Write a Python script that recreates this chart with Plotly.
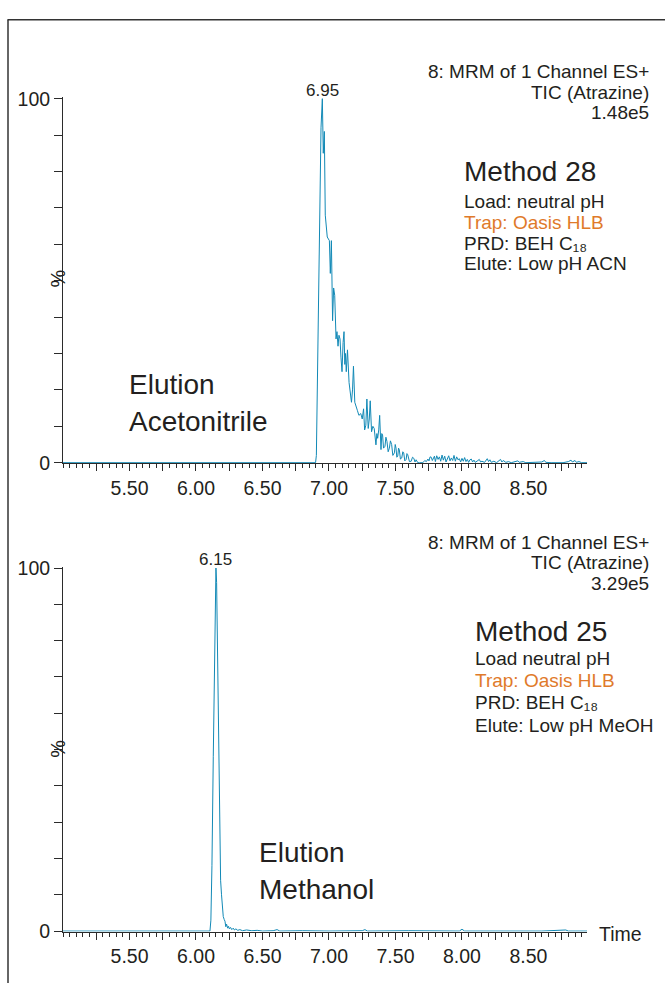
import plotly.graph_objects as go

# ---- chromatogram data (retention time in min, relative intensity in %) ----
time_acn = [5.00, 6.89, 6.899, 6.905, 6.915, 6.927, 6.94, 6.95, 6.957, 6.965, 6.972, 6.987,
            7.003, 7.01, 7.018, 7.027, 7.035, 7.043, 7.053, 7.06, 7.068, 7.075, 7.083, 7.09,
            7.098, 7.106, 7.113, 7.119, 7.124, 7.13, 7.139, 7.151, 7.16, 7.169, 7.177, 7.184,
            7.194, 7.204, 7.214, 7.225, 7.239, 7.25, 7.26, 7.268, 7.277, 7.285, 7.295, 7.303,
            7.31, 7.32, 7.33, 7.34, 7.347, 7.353, 7.36, 7.366, 7.374, 7.381, 7.391, 7.397,
            7.403, 7.41, 7.421, 7.428, 7.436, 7.445, 7.454, 7.462, 7.471, 7.48, 7.492, 7.498,
            7.504, 7.51, 7.517, 7.523, 7.529, 7.537, 7.547, 7.555, 7.562, 7.57, 7.58, 7.586,
            7.592, 7.605, 7.618, 7.628, 7.638, 7.647, 7.655, 7.668, 7.681, 7.706, 7.72, 7.732,
            7.744, 7.752, 7.76, 7.769, 7.777, 7.785, 7.793, 7.80, 7.81, 7.82, 7.83, 7.84,
            7.85, 7.86, 7.87, 7.88, 7.89, 7.90, 7.91, 7.92, 7.93, 7.94, 7.95, 7.96,
            7.97, 7.98, 7.99, 8.00, 8.01, 8.02, 8.03, 8.04, 8.05, 8.06, 8.07, 8.08,
            8.09, 8.10, 8.12, 8.13, 8.14, 8.15, 8.17, 8.18, 8.19, 8.20, 8.21, 8.22,
            8.24, 8.26, 8.28, 8.29, 8.30, 8.31, 8.33, 8.35, 8.37, 8.40, 8.42, 8.43,
            8.46, 8.48, 8.52, 8.55, 8.60, 8.62, 8.63, 8.67, 8.72, 8.76, 8.80, 8.82,
            8.83, 8.85, 8.86, 8.88, 8.90, 8.95]
int_acn = [0, 0, 0, 2, 25, 62, 92, 100, 85, 91, 68, 62,
           61, 52, 61, 39, 48, 46, 34, 36, 32, 35, 34, 29,
           25, 33, 36, 27, 30, 25, 31, 22, 19, 16.6, 20, 26.5,
           16.6, 15, 14.3, 13, 13.5, 12, 14.8, 9, 10.3, 17.5, 9.4, 12,
           17, 8.5, 10, 9.4, 6, 4.9, 8, 6.7, 9, 13, 3.6, 8,
           7.6, 4, 4.5, 7, 5.8, 3, 4, 6, 5, 2, 2.7, 5,
           4, 1.5, 1.8, 4, 3.5, 1, 1.3, 3, 2.7, 0.5, 0.9, 2.5,
           2.2, 0.3, 0.4, 1.5, 1.2, 0.2, 0.8, 0, 0, 0, 0.6, 0.3,
           1, 0.5, 1.6, 1.5, 0.6, 1.2, 1.8, 0.3, 1.9, 0.9, 1.6, 0.4,
           2.1, 0.7, 1.8, 0.2, 1.4, 1.9, 0.5, 1.3, 0.6, 2.0, 0.4, 1.6,
           0.8, 1.1, 0.2, 1.2, 0.4, 1.4, 0.3, 0.9, 0.1, 0.8, 1.0, 0.2,
           0.7, 0.1, 0.6, 0.9, 0.2, 0.4, 0.1, 0.7, 1.1, 0.3, 0.8, 0.1,
           0.4, 0.0, 0.5, 0.9, 0.2, 0.6, 0.1, 0.3, 0.0, 0.2, 0.5, 0.1,
           0.3, 0.0, 0.1, 0.0, 0.2, 0.6, 0.1, 0.0, 0.1, 0.0, 0.3, 0.7,
           0.2, 0.6, 0.1, 0.3, 0.0, 0.0]

time_meoh = [5.00, 6.105, 6.112, 6.12, 6.13, 6.14, 6.147, 6.15, 6.155, 6.163, 6.17, 6.177,
             6.185, 6.192, 6.198, 6.205, 6.212, 6.218, 6.224, 6.23, 6.238, 6.245, 6.251, 6.26,
             6.269, 6.28, 6.289, 6.30, 6.314, 6.33, 6.35, 6.38, 6.42, 6.46, 6.50, 6.58,
             6.61, 6.63, 6.80, 7.00, 7.25, 7.27, 7.29, 7.60, 7.98, 8.00, 8.02, 8.30,
             8.60, 8.78, 8.80, 8.95]
int_meoh = [0, 0, 3, 18, 48, 80, 97, 100, 96, 72, 45, 24,
            14, 10, 6.3, 4, 3.2, 2.7, 1.2, 1.9, 0.8, 1.3, 0.6, 1.0,
            0.4, 0.8, 0.3, 0.6, 0.2, 0.4, 0.1, 0.3, 0.1, 0.2, 0.0, 0.1,
            0.4, 0.0, 0.1, 0.0, 0.1, 0.4, 0.0, 0.1, 0.0, 0.5, 0.0, 0.1,
            0.0, 0.3, 0.0, 0.0]

# ---- axis tick definitions ----
x_label_vals = [5.5, 6.0, 6.5, 7.0, 7.5, 8.0, 8.5]
x_labels = ["5.50", "6.00", "6.50", "7.00", "7.50", "8.00", "8.50"]
x_quarter_vals = [5.25, 5.75, 6.25, 6.75, 7.25, 7.75, 8.25, 8.75]
y_label_vals = [0, 100]
y_labels = ["0", "100"]

# ---- panel text ----
header_acn = ["8: MRM of 1 Channel ES+", "TIC (Atrazine)", "1.48e5"]
header_meoh = ["8: MRM of 1 Channel ES+", "TIC (Atrazine)", "3.29e5"]
method_acn = ["Method 28", "Load: neutral pH", "Trap: Oasis HLB", "PRD: BEH C₁₈", "Elute: Low pH ACN"]
method_meoh = ["Method 25", "Load neutral pH", "Trap: Oasis HLB", "PRD: BEH C₁₈", "Elute: Low pH MeOH"]
elution_acn = ["Elution", "Acetonitrile"]
elution_meoh = ["Elution", "Methanol"]

W, H = 665, 993
FONT = "Arial, 'Liberation Sans', Helvetica, 'DejaVu Sans', sans-serif"
TEXT = "#231f20"
AXIS = "#2b2b2b"
TRACE = "#1289b6"
ORANGE = "#df7a2a"
X_RANGE = [5.0, 8.94]


def px(x):
    return x / W


def py(y):
    return 1 - y / H


fig = go.Figure()
fig.add_trace(go.Scatter(x=time_acn, y=int_acn, mode="lines", xaxis="x", yaxis="y",
                         line=dict(color=TRACE, width=1), hoverinfo="skip"))
fig.add_trace(go.Scatter(x=time_meoh, y=int_meoh, mode="lines", xaxis="x2", yaxis="y2",
                         line=dict(color=TRACE, width=1), hoverinfo="skip"))
# empty carriers so the quarter-minute tick axes are laid out
fig.add_trace(go.Scatter(x=[], y=[], xaxis="x3", yaxis="y", hoverinfo="skip"))
fig.add_trace(go.Scatter(x=[], y=[], xaxis="x4", yaxis="y2", hoverinfo="skip"))

x_dom = [px(63), px(587)]


def xaxis_cfg(anchor):
    return dict(domain=x_dom, anchor=anchor, range=X_RANGE, showgrid=False, zeroline=False,
                showline=True, linecolor=AXIS, linewidth=1, mirror=False,
                tickmode="array", tickvals=x_label_vals, ticktext=x_labels,
                ticks="outside", ticklen=7, tickwidth=1, tickcolor=AXIS,
                tickfont=dict(family=FONT, size=19.5, color=TEXT),
                minor=dict(ticks="outside", ticklen=4, tickwidth=1, tickcolor=AXIS,
                           dtick=0.05, tick0=5.0, showgrid=False),
                fixedrange=True)


def quarter_axis_cfg(anchor, over):
    return dict(domain=x_dom, anchor=anchor, overlaying=over, side="bottom", range=X_RANGE,
                showgrid=False, zeroline=False, showline=False, showticklabels=False,
                tickmode="array", tickvals=x_quarter_vals,
                ticks="outside", ticklen=7, tickwidth=1, tickcolor=AXIS, fixedrange=True)


def yaxis_cfg(anchor, top_px, zero_px):
    per = (zero_px - top_px) / 100.0
    lo, hi = -0.15, 100.4
    dom = [py(zero_px - lo * per), py(zero_px - hi * per)]
    return dict(domain=dom, anchor=anchor, range=[lo, hi], showgrid=False, zeroline=False,
                showline=True, linecolor=AXIS, linewidth=1,
                tickmode="array", tickvals=y_label_vals, ticktext=y_labels,
                ticks="outside", ticklen=8, tickwidth=1, tickcolor=AXIS,
                minor=dict(ticks="outside", ticklen=8, tickwidth=1, tickcolor=AXIS,
                           dtick=10, tick0=0, showgrid=False),
                tickfont=dict(family=FONT, size=19.5, color=TEXT), fixedrange=True)


annotations = []


def note(text, x, y, size, color=TEXT, xanchor="left", angle=0):
    annotations.append(dict(text=text, x=px(x), y=py(y), xref="paper", yref="paper",
                            xanchor=xanchor, yanchor="middle", showarrow=False,
                            textangle=angle,
                            font=dict(family=FONT, size=size, color=color)))


def panel_text(header, method, elution, header_y, method_y, method_x, elution_xy, pct_y):
    for line, yy in zip(header, header_y):
        note(line, 651, yy, 19, xanchor="right")
    note(method[0], method_x, method_y[0], 28)
    for line, yy in zip(method[1:], method_y[1:]):
        note(line, method_x, yy, 19, color=ORANGE if line.startswith("Trap") else TEXT)
    ex, ey = elution_xy
    note(elution[0], ex, ey, 28)
    note(elution[1], ex, ey + 38, 28)
    note("%", 45, pct_y, 20, angle=-90)


panel_text(header_acn, method_acn, elution_acn, [63, 84, 105],
           [165, 195, 216.5, 238, 259], 462, (127, 382), 274)
panel_text(header_meoh, method_meoh, elution_meoh, [543, 564, 585],
           [634, 662, 684, 707, 730], 473, (257, 860), 754)

# retention-time labels on the apex of each peak
for xa, ya, t, v in [("x", "y", time_acn, int_acn), ("x2", "y2", time_meoh, int_meoh)]:
    i = v.index(max(v))
    annotations.append(dict(text=f"{t[i]:.2f}", x=t[i], y=v[i], xref=xa, yref=ya,
                            xanchor="center", yanchor="bottom", showarrow=False, yshift=-3,
                            font=dict(family=FONT, size=17, color=TEXT)))

note("Time", 597, 943, 19.5)

shapes = [
    dict(type="line", xref="paper", yref="paper", x0=px(7.5), x1=1.0, y0=py(10), y1=py(10),
         line=dict(color="#333333", width=1.5)),
    dict(type="line", xref="paper", yref="paper", x0=px(8), x1=px(8), y0=py(10), y1=0,
         line=dict(color="#333333", width=1.5)),
]

fig.update_layout(
    width=W, height=H, margin=dict(l=0, r=0, t=0, b=0),
    paper_bgcolor="white", plot_bgcolor="white", showlegend=False,
    xaxis=xaxis_cfg("y"), yaxis=yaxis_cfg("x", 90.5, 462),
    xaxis2=xaxis_cfg("y2"), yaxis2=yaxis_cfg("x2", 569.5, 940),
    xaxis3=quarter_axis_cfg("y", "x"), xaxis4=quarter_axis_cfg("y2", "x2"),
    annotations=annotations, shapes=shapes,
)

fig.write_html("out.html", post_script="document.body.style.margin='0';")
